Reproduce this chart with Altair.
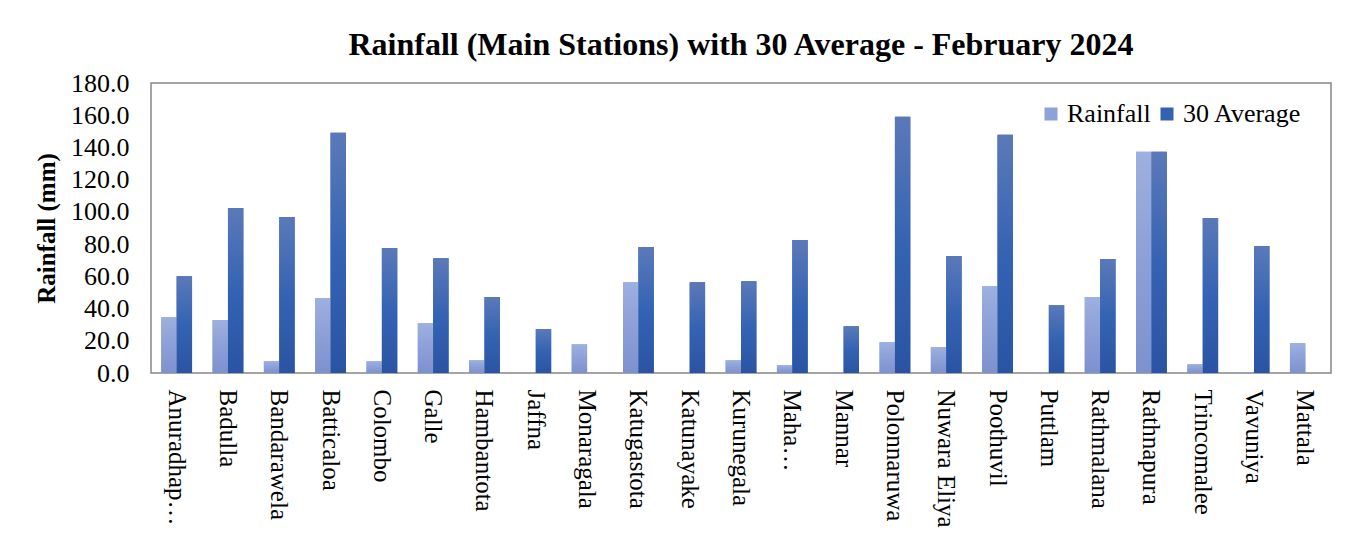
import altair as alt
import pandas as pd

stations = ["Anuradhap…", "Badulla", "Bandarawela", "Batticaloa", "Colombo", "Galle",
            "Hambantota", "Jaffna", "Monaragala", "Katugastota", "Katunayake", "Kurunegala",
            "Maha…", "Mannar", "Polonnaruwa", "Nuwara Eliya", "Poothuvil", "Puttlam",
            "Rathmalana", "Rathnapura", "Trincomalee", "Vavuniya", "Mattala"]
rainfall = [34.6, 32.8, 7.3, 46.5, 7.3, 30.9, 7.9, 0.0, 17.8, 56.4, 0.0, 7.9,
            4.8, 0.6, 19.1, 16.0, 53.9, 0.5, 47.1, 137.3, 5.4, 0.6, 18.5]
average30 = [60.1, 102.4, 96.8, 149.1, 77.6, 71.3, 47.1, 27.2, 0.0, 78.2, 56.4, 57.0,
             82.5, 29.0, 159.1, 72.6, 147.9, 42.1, 70.7, 137.3, 96.2, 78.8, 0.0]
series = ["Rainfall", "30 Average"]
y_ticks = [0, 20, 40, 60, 80, 100, 120, 140, 160, 180]

rows = []
for s, r, a in zip(stations, rainfall, average30):
    rows.append({"station": s, "series": series[0], "value": r})
    rows.append({"station": s, "series": series[1], "value": a})
df = pd.DataFrame(rows)

FONT = "Liberation Serif"

rain_grad = alt.Gradient(gradient="linear", x1=0, x2=0, y1=0, y2=1, stops=[
    alt.GradientStop(color="#9eb0df", offset=0),
    alt.GradientStop(color="#8c9fd7", offset=0.5),
    alt.GradientStop(color="#7d91cf", offset=1)])
avg_grad = alt.Gradient(gradient="linear", x1=0, x2=0, y1=0, y2=1, stops=[
    alt.GradientStop(color="#5b79b9", offset=0),
    alt.GradientStop(color="#3463b3", offset=0.5),
    alt.GradientStop(color="#2a54a3", offset=1)])

x_enc = alt.X("station:N", sort=stations, title=None,
              scale=alt.Scale(paddingInner=0.4, paddingOuter=0.2),
              axis=alt.Axis(labelAngle=90, labelAlign="left", labelBaseline="middle",
                            labelFont=FONT, labelFontSize=25, labelColor="#000000",
                            labelPadding=16, labelLimit=300, ticks=False, domain=False))
y_enc = alt.Y("value:Q", title="Rainfall (mm)",
              scale=alt.Scale(domain=[0, 180], nice=False),
              axis=alt.Axis(values=y_ticks, format=".1f", grid=False, ticks=False, domain=False,
                            labelFont=FONT, labelFontSize=26, labelColor="#000000",
                            labelPadding=22, titleFont=FONT, titleFontSize=25,
                            titleFontWeight="bold", titleColor="#000000", titlePadding=11))
xo_enc = alt.XOffset("series:N", scale=alt.Scale(domain=series, paddingInner=0))

base = alt.Chart(df)

legend_layer = base.mark_bar().encode(
    x=x_enc, y=y_enc, xOffset=xo_enc,
    color=alt.Color("series:N", title=None,
                    scale=alt.Scale(domain=series, range=["#8fa2d8", "#3461b0"]),
                    legend=alt.Legend(orient="none", legendX=887, legendY=18,
                                      direction="horizontal", symbolType="square",
                                      symbolSize=169, symbolStrokeWidth=0,
                                      labelFont=FONT, labelFontSize=26, labelColor="#000000",
                                      labelOffset=3, columnPadding=3, padding=0)))

rain_layer = base.transform_filter(alt.datum.series == series[0]).mark_bar(color=rain_grad).encode(
    x=x_enc, y=y_enc, xOffset=xo_enc)
avg_layer = base.transform_filter(alt.datum.series == series[1]).mark_bar(color=avg_grad).encode(
    x=x_enc, y=y_enc, xOffset=xo_enc)

chart = alt.layer(legend_layer, rain_layer, avg_layer).properties(
    width=1180, height=290,
    background="#ffffff",
    title=alt.Title("Rainfall (Main Stations) with 30 Average - February 2024",
                    font=FONT, fontSize=32, fontWeight="bold", color="#000000",
                    anchor="middle", offset=8),
    autosize=alt.AutoSizeParams(type="none"),
    padding={"left": 143, "top": 75, "right": 15, "bottom": 158},
).configure_view(stroke="#878787", strokeWidth=1.5)

chart.save("out.html", embed_options={"renderer": "svg", "actions": False})
